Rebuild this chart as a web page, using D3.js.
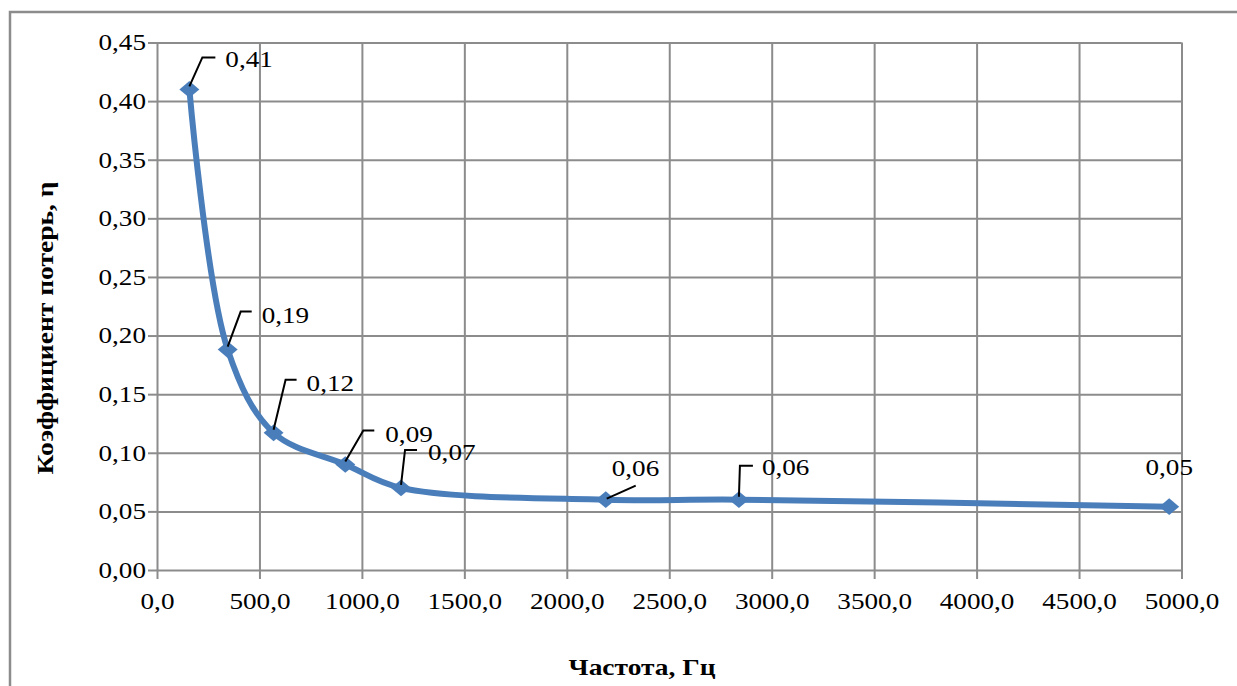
<!doctype html>
<html>
<head>
<meta charset="utf-8">
<style>
    body { margin: 0; background: #fff; }
    svg { display: block; }
    .grid line { stroke: #8c8c8c; stroke-width: 2; }
    .grid path { stroke: none; }
    .axis path { stroke: none; }
    .axis line { stroke: #8c8c8c; stroke-width: 2; }
    .leader { stroke: #000; stroke-width: 2; fill: none; }
</style>
<script src="https://d3js.org/d3.v7.min.js"></script>
</head>
<body>
<svg width="1237" height="686"></svg>
<script>
    // frequency, Hz
    const freq = [158, 345, 569, 919, 1191, 2190, 2840, 4940];
    // loss coefficient
    const eta = [0.410, 0.188, 0.117, 0.090, 0.070, 0.060, 0.060, 0.054];
    const xTicks = [0, 500, 1000, 1500, 2000, 2500, 3000, 3500, 4000, 4500, 5000];
    const yTicks = [0, 0.05, 0.10, 0.15, 0.20, 0.25, 0.30, 0.35, 0.40, 0.45];

    // data label layout relative to the point (px):
    // leader goes to (lx, ly) then horizontally to ex; text starts at (tx, ty)
    const labelPos = [
        {kind: 'hook', lx: 13, ly: -32, ex: 26, tx: 36, ty: -22},
        {kind: 'hook', lx: 13, ly: -38, ex: 24, tx: 34, ty: -27},
        {kind: 'hook', lx: 12, ly: -53, ex: 23, tx: 33, ty: -42},
        {kind: 'hook', lx: 18, ly: -34, ex: 29, tx: 40, ty: -23},
        {kind: 'hook', lx: 4, ly: -38, ex: 16, tx: 27, ty: -28},
        {kind: 'slant', lx: 30, ly: -14, tx: 6, ty: -24},
        {kind: 'hook', lx: 1, ly: -34, ex: 14, tx: 23, ty: -25},
        {kind: 'none', tx: 0, ty: -32}
    ];

    const FONT = '"Liberation Serif", "Times New Roman", serif';
    const STRETCH = 1.18;

    const data = freq.map((f, i) => ({f: f, v: eta[i], lp: labelPos[i]}));
    const fmt = v => d3.format('.2f')(v).replace('.', ',');
    const fmtX = v => d3.format('.1f')(v).replace('.', ',');

    // the source picture has its text a bit wider than the font
    function widen(sel, k) {
        sel.each(function () {
            const w = this.getComputedTextLength();
            d3.select(this).attr('textLength', w * k).attr('lengthAdjust', 'spacingAndGlyphs');
        });
    }

    const svg = d3.select('svg');
    const plotL = 157, plotT = 42.5, plotR = 1181.5, plotB = 570;

    // outer chart frame
    svg.append('path')
        .attr('d', `M1240,12 H10 V690`)
        .attr('fill', 'none')
        .attr('stroke', '#8c8c8c')
        .attr('stroke-width', 2.5);

    const x = d3.scaleLinear().domain([0, 5000]).range([plotL, plotR]);
    const y = d3.scaleLinear().domain([0, 0.45]).range([plotB, plotT]);

    svg.append('g')
        .attr('class', 'grid')
        .attr('transform', `translate(0, ${plotB})`)
        .call(d3.axisBottom(x).tickValues(xTicks).tickSize(-(plotB - plotT)).tickFormat(''));

    svg.append('g')
        .attr('class', 'grid')
        .attr('transform', `translate(${plotL}, 0)`)
        .call(d3.axisLeft(y).tickValues(yTicks).tickSize(-(plotR - plotL)).tickFormat(''));

    const xAxis = svg.append('g')
        .attr('class', 'axis')
        .attr('transform', `translate(0, ${plotB})`)
        .call(d3.axisBottom(x).tickValues(xTicks).tickSize(9).tickPadding(14).tickFormat(fmtX));

    const yAxis = svg.append('g')
        .attr('class', 'axis')
        .attr('transform', `translate(${plotL}, 0)`)
        .call(d3.axisLeft(y).tickValues(yTicks).tickSize(9).tickPadding(2).tickFormat(fmt));

    [xAxis, yAxis].forEach(a => {
        a.attr('font-family', FONT).attr('font-size', 23);
        a.selectAll('text').attr('fill', '#000').call(widen, STRETCH);
    });

    const line = d3.line()
        .x(d => x(d.f))
        .y(d => y(d.v))
        .curve(d3.curveCatmullRom.alpha(0.5));

    svg.append('path')
        .datum(data)
        .attr('d', line)
        .attr('fill', 'none')
        .attr('stroke', '#4a7ebb')
        .attr('stroke-width', 6)
        .attr('stroke-linejoin', 'round');

    svg.selectAll('.marker')
        .data(data)
        .enter()
        .append('path')
        .attr('class', 'marker')
        .attr('transform', d => `translate(${x(d.f)}, ${y(d.v)}) scale(1.05, 0.88)`)
        .attr('d', d3.symbol().type(d3.symbolDiamond2).size(230))
        .attr('fill', '#4a7ebb');

    // leader lines
    svg.selectAll('.leader')
        .data(data.filter(d => d.lp.kind !== 'none'))
        .enter()
        .append('path')
        .attr('class', 'leader')
        .attr('d', d => {
            const px = x(d.f), py = y(d.v), p = d.lp;
            if (p.kind === 'slant') {
                return `M${px + 1},${py - 1} L${px + p.lx},${py + p.ly}`;
            }
            return `M${px},${py - 3} L${px + p.lx},${py + p.ly} H${px + p.ex}`;
        });

    svg.selectAll('.value')
        .data(data)
        .enter()
        .append('text')
        .attr('class', 'value')
        .attr('font-family', FONT)
        .attr('font-size', 23)
        .attr('x', d => x(d.f) + d.lp.tx)
        .attr('y', d => y(d.v) + d.lp.ty)
        .attr('text-anchor', d => d.lp.kind === 'none' ? 'middle' : 'start')
        .text(d => fmt(d.v))
        .call(widen, STRETCH);

    svg.append('text')
        .attr('font-family', FONT)
        .attr('font-size', 24)
        .attr('font-weight', 'bold')
        .attr('transform', 'translate(53, 328) rotate(-90)')
        .attr('text-anchor', 'middle')
        .attr('textLength', 293)
        .attr('lengthAdjust', 'spacingAndGlyphs')
        .text('Коэффициент потерь, η');

    svg.append('text')
        .attr('font-family', FONT)
        .attr('font-size', 24)
        .attr('font-weight', 'bold')
        .attr('x', 642)
        .attr('y', 675)
        .attr('text-anchor', 'middle')
        .attr('textLength', 147)
        .attr('lengthAdjust', 'spacingAndGlyphs')
        .text('Частота, Гц');
</script>
</body>
</html>
